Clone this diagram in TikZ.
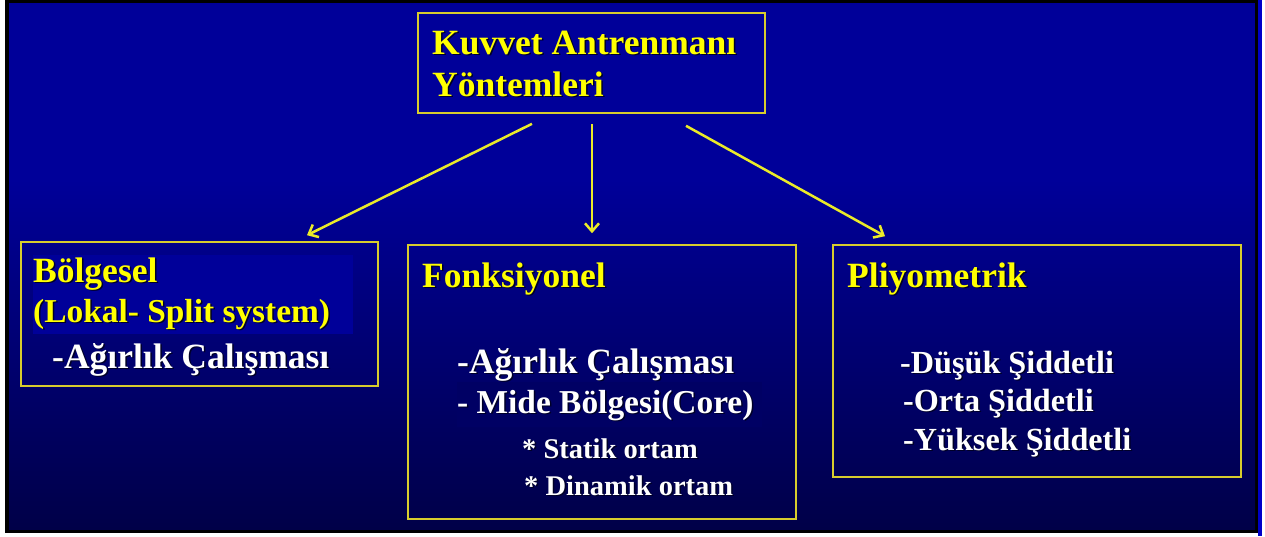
\documentclass[tikz,border=0pt]{standalone}
\usepackage{fontspec}
\setmainfont{Liberation Serif}
\usetikzlibrary{arrows.meta}
\definecolor{bgtop}{RGB}{0,0,153}
\definecolor{bgbot}{RGB}{0,0,72}
\definecolor{hiL}{RGB}{0,0,153}
\definecolor{hiM}{RGB}{0,0,100}
\definecolor{stripc}{RGB}{0,0,200}
\definecolor{frameline}{RGB}{215,205,45}
\definecolor{arrowc}{RGB}{235,235,40}
\definecolor{txtyellow}{RGB}{255,255,0}
\definecolor{shadowc}{RGB}{0,0,40}
\newcommand\shd[1]{\makebox[0pt][l]{\hspace{1.5pt}\raisebox{-1.5pt}{\color{shadowc}#1}}#1}
\tikzset{
  box/.style={draw=frameline, line width=1.6pt, inner sep=0pt},
  big/.style={anchor=base west, inner sep=0pt, font=\bfseries\fontsize{35.5}{40}\selectfont},
  mid33/.style={anchor=base west, inner sep=0pt, font=\bfseries\fontsize{33.4}{38}\selectfont},
  med/.style={anchor=base west, inner sep=0pt, font=\bfseries\fontsize{32.2}{36}\selectfont},
  small/.style={anchor=base west, inner sep=0pt, font=\bfseries\fontsize{28.5}{32}\selectfont},
  hy/.style={text=txtyellow},
  hw/.style={text=white},
  conn/.style={draw=arrowc, line width=2.5pt, -{Straight Barb[length=8pt,width=14pt]}}
}
\begin{document}
\begin{tikzpicture}[x=1pt,y=-1pt]
\useasboundingbox (0,0) rectangle (1265,536);
% background
\fill[white] (0,0) rectangle (1265,536);
\fill[black] (5,0) rectangle (1258,533);
\fill[stripc] (1258,0) rectangle (1262,536);
\fill[bgtop] (9,3) rectangle (1255,180);
\shade[top color=bgtop, bottom color=bgbot] (9,179.5) rectangle (1255,529);
% highlights
\fill[hiL] (33,255) rectangle (353,334);
\fill[hiM] (457,382) rectangle (762,427);
% boxes
\node[box, minimum width=347pt, minimum height=100pt] (top) at (591.5,63) {};
\node[box, minimum width=357pt, minimum height=144pt] (left) at (199.5,314) {};
\node[box, minimum width=388pt, minimum height=274pt] (mid) at (602,382) {};
\node[box, minimum width=408pt, minimum height=232pt] (right) at (1037,361) {};
% title
\node[big,hy] (t1) at (432,54) {\shd{Kuvvet Antrenmanı}};
\node[big,hy] (t2) at (432,96) {\shd{Yöntemleri}};
% left
\node[big,hy] (l1) at (33,282) {\shd{Bölgesel}};
\node[mid33,hy] (l2) at (33,322) {\shd{(Lokal- Split system)}};
\node[big,hw] (l3) at (52,368) {\shd{-Ağırlık Çalışması}};
% middle
\node[big,hy] (m1) at (422,287) {\shd{Fonksiyonel}};
\node[big,hw] (m2) at (457,373) {\shd{-Ağırlık Çalışması}};
\node[mid33,hw] (m3) at (457,413) {\shd{- Mide Bölgesi(Core)}};
\node[small,hw] (m4) at (522,458) {\shd{* Statik ortam}};
\node[small,hw] (m5) at (524,495) {\shd{* Dinamik ortam}};
% right
\node[big,hy] (r1) at (847,287) {\shd{Pliyometrik}};
\node[med,hw] (r2) at (900,373) {\shd{-Düşük Şiddetli}};
\node[med,hw] (r3) at (903,411) {\shd{-Orta Şiddetli}};
\node[med,hw] (r4) at (903,450) {\shd{-Yüksek Şiddetli}};
% connectors
\draw[conn] ([xshift=-59.5pt,yshift=-10pt]top.south) -- ([xshift=107.5pt,yshift=6pt]left.north);
\draw[conn] ([xshift=0.5pt,yshift=-10pt]top.south) -- ([xshift=-10pt,yshift=11pt]mid.north);
\draw[conn] ([xshift=94.5pt,yshift=-12pt]top.south) -- ([xshift=-152pt,yshift=8pt]right.north);
\end{tikzpicture}
\end{document}
